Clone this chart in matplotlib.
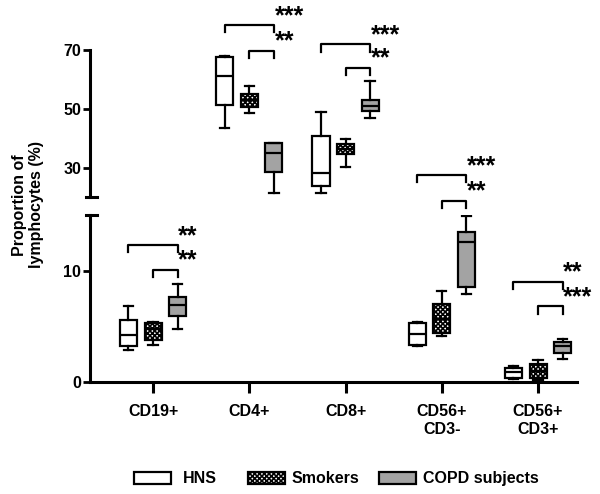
"""Lymphocyte subsets in HNS, smokers and COPD subjects (broken-axis box plot)."""

import matplotlib

matplotlib.use("Agg")
import matplotlib.pyplot as plt
from matplotlib.patches import Rectangle

plt.rcParams["font.family"] = ["Liberation Sans", "DejaVu Sans"]
plt.rcParams["font.weight"] = "bold"
plt.rcParams["hatch.linewidth"] = 1.2

categories = ["CD19+", "CD4+", "CD8+", "CD56+\nCD3-", "CD56+\nCD3+"]
upper_cats = [1, 2]  # drawn on the 20-70 segment

# each row: whisker low, q1, median, q3, whisker high
hns_stats = [
    [2.9, 3.2, 4.2, 5.6, 6.8],
    [43.5, 51.4, 61.0, 67.7, 67.9],
    [21.2, 23.6, 28.3, 40.9, 48.8],
    [3.2, 3.3, 4.3, 5.3, 5.4],
    [0.3, 0.4, 0.9, 1.3, 1.4],
]
smokers_stats = [
    [3.3, 3.8, 4.8, 5.3, 5.4],
    [48.6, 50.6, 53.1, 55.0, 57.8],
    [30.2, 34.5, 36.2, 37.9, 39.6],
    [4.1, 4.4, 5.7, 7.0, 8.2],
    [0.2, 0.4, 1.0, 1.6, 2.0],
]
copd_stats = [
    [4.8, 5.9, 6.9, 7.6, 8.8],
    [21.3, 28.6, 34.8, 38.2, 38.5],
    [46.9, 49.1, 50.8, 52.9, 59.5],
    [7.9, 8.5, 12.6, 13.5, 14.9],
    [2.1, 2.6, 3.2, 3.6, 3.85],
]

# significance brackets (HNS-COPD long, Smokers-COPD short)
bracket_long_y = [12.3, 78.5, 71.9, 18.6, 9.0]
bracket_short_y = [10.1, 69.8, 64.0, 16.3, 6.8]
stars_long = ["**", "***", "***", "***", "**"]
stars_short = ["**", "**", "**", "**", "***"]

series = [
    ("HNS", hns_stats, "white", None),
    ("Smokers", smokers_stats, "white", "xxxxxxx"),
    ("COPD subjects", copd_stats, "#a3a3a3", None),
]
offsets = [-0.255, 0.0, 0.255]
box_w = 0.177
lw = 1.6

fig = plt.figure(figsize=(6, 4.94), dpi=100)
ax_lo = fig.add_axes([0.15, 0.2267, 0.8117, 0.338])
ax_hi = fig.add_axes([0.15, 0.6012, 0.8117, 0.2976])
ax_hi.patch.set_visible(False)
ax_lo.patch.set_visible(False)

for ax in (ax_lo, ax_hi):
    ax.set_xlim(0.345, 5.405)
    for s in ("top", "right"):
        ax.spines[s].set_visible(False)
    for s in ("left", "bottom"):
        ax.spines[s].set_linewidth(2.2)
    ax.tick_params(axis="y", length=5, width=2, labelsize=11.5, pad=1.5)

ax_lo.set_ylim(0, 15)
ax_lo.set_yticks([0, 10])
ax_lo.set_xticks(range(1, 6))
ax_lo.set_xticklabels(categories)
ax_lo.tick_params(axis="x", length=8, width=2.2, labelsize=11.5, pad=8)

ax_hi.set_ylim(20, 70)
ax_hi.set_yticks([30, 50, 70])
ax_hi.spines["bottom"].set_visible(False)
ax_hi.set_xticks([])

# break caps on the y axis
ax_hi.plot([-0.008, 0.014], [0, 0], transform=ax_hi.transAxes, color="k", lw=2.2, clip_on=False)
ax_lo.plot([-0.008, 0.014], [1, 1], transform=ax_lo.transAxes, color="k", lw=2.2, clip_on=False)

for i in range(len(categories)):
    ax = ax_hi if i in upper_cats else ax_lo
    for (name, stats, fc, hatch), off in zip(series, offsets):
        lo, q1, med, q3, hi = stats[i]
        st = [{"whislo": lo, "q1": q1, "med": med, "q3": q3, "whishi": hi, "fliers": []}]
        res = ax.bxp(st, positions=[i + 1 + off], widths=box_w, patch_artist=True,
                     showfliers=False, capwidths=box_w * 0.55, manage_ticks=False,
                     boxprops=dict(facecolor=fc, edgecolor="k", linewidth=lw),
                     medianprops=dict(color="k", linewidth=lw),
                     whiskerprops=dict(color="k", linewidth=lw),
                     capprops=dict(color="k", linewidth=lw))
        if hatch:
            res["boxes"][0].set_hatch(hatch)

    drop = 2.5 if ax is ax_hi else 0.65
    x_hns = i + 1 + offsets[0]
    x_smk = i + 1 + offsets[1]
    x_cop = i + 1 + offsets[2]
    for x0, y, txt in ((x_hns, bracket_long_y[i], stars_long[i]),
                       (x_smk, bracket_short_y[i], stars_short[i])):
        ax.plot([x0, x0, x_cop, x_cop], [y - drop, y, y, y - drop], color="k", lw=lw, clip_on=False)
        ax.annotate(txt, (x_cop, y), xytext=(0.5, 1.5), textcoords="offset points",
                    ha="left", va="baseline", fontsize=18, annotation_clip=False)

fig.text(28 / 600, 1 - 205 / 494, "Proportion of\nlymphocytes (%)", rotation=90,
         ha="center", va="center", multialignment="center", fontsize=11.5)

# legend
legend_x = [134, 248, 379]
text_x = [183, 292, 423]
for (name, stats, fc, hatch), px, tx in zip(series, legend_x, text_x):
    fig.patches.append(Rectangle((px / 600, 1 - 484 / 494), 37 / 600, 12 / 494,
                                 transform=fig.transFigure, facecolor=fc, edgecolor="k",
                                 linewidth=lw, hatch=hatch))
    fig.text(tx / 600, 1 - 478 / 494, name, ha="left", va="center", fontsize=11.5)

fig.savefig("out.png", dpi=100)
